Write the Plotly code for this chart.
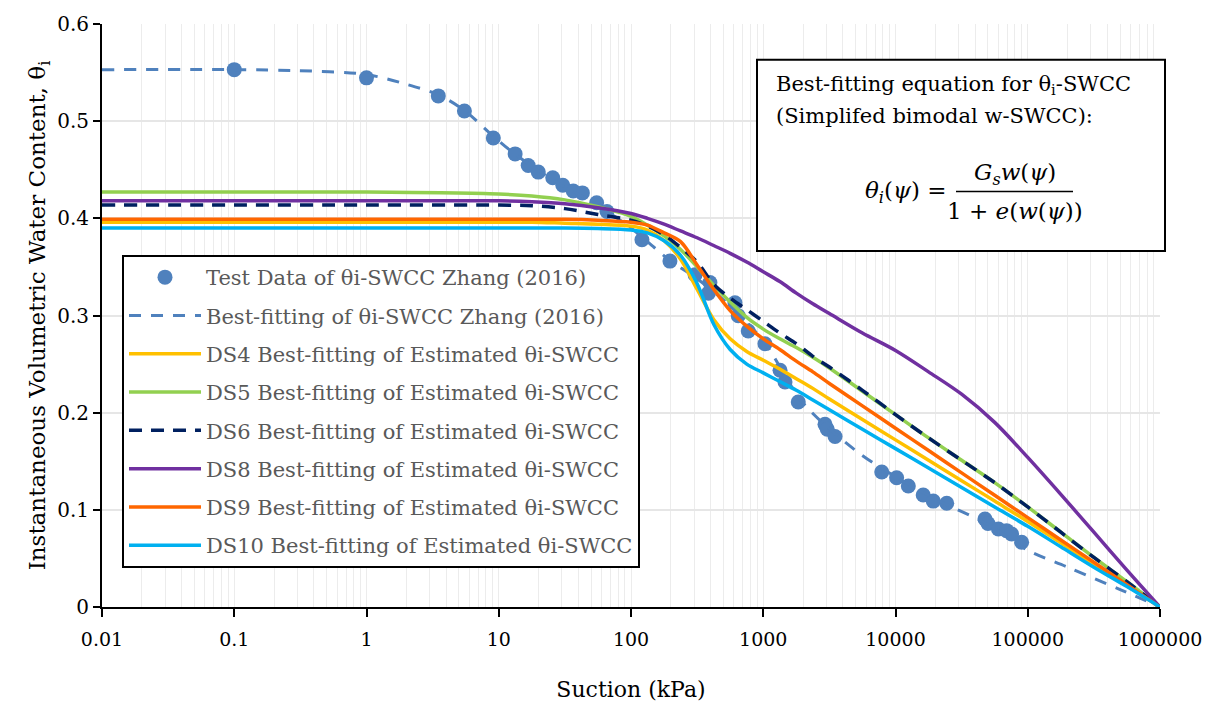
import plotly.graph_objects as go

# ---------------- data ----------------
test_x = [0.1, 1, 3.49, 5.5, 9.1, 13.3, 16.7, 19.9, 25.6, 30.5, 36.6, 42.9, 55, 65.8,
          121, 197, 305, 395, 385, 611, 647, 770, 1030, 1339, 1460, 1840, 2930, 3050, 3490,
          7870, 10200, 12500, 16200, 19300, 24400, 47500, 50000, 60000, 69200, 75500, 89900]
test_y = [0.553, 0.5446, 0.526, 0.5105, 0.4827, 0.4663, 0.4544, 0.4476, 0.4418, 0.434, 0.4282, 0.4262, 0.416, 0.407,
          0.378, 0.356, 0.342, 0.334, 0.323, 0.313, 0.2997, 0.284, 0.271, 0.2436, 0.2316, 0.211, 0.188, 0.183, 0.1755,
          0.139, 0.133, 0.1245, 0.1153, 0.109, 0.1068, 0.0905, 0.0860, 0.0803, 0.0786, 0.0752, 0.0667]

fit_x = [0.01, 0.1, 0.3, 1, 2, 3.5, 5.5, 9, 13, 20, 30, 55, 100, 150, 200, 300, 500, 1000,
         2000, 5000, 10000, 20000, 50000, 100000, 200000, 500000, 1000000]
fit_y = [0.553, 0.553, 0.552, 0.548, 0.538, 0.527, 0.511, 0.485, 0.467, 0.449, 0.434, 0.414, 0.390, 0.370,
         0.356, 0.340, 0.316, 0.274, 0.210, 0.161, 0.134, 0.111, 0.085, 0.0585, 0.041, 0.018, 0.0]

ds_x = [0.01, 0.1, 1, 10, 17.8, 31.6, 56.2, 100, 133, 178, 237, 316, 422, 562, 750, 1000,
        1334, 1778, 2371, 3162, 5623, 10000, 17783, 31623, 56234, 100000, 177828, 316228, 562341, 1000000]
ds4_y = [0.396, 0.396, 0.396, 0.396, 0.396, 0.395, 0.394, 0.392, 0.388, 0.377, 0.358, 0.327, 0.296, 0.276, 0.263,
         0.254, 0.245, 0.235, 0.225, 0.214, 0.193, 0.172, 0.151, 0.130, 0.109, 0.088, 0.066, 0.044, 0.022, 0.0]
ds5_y = [0.427, 0.427, 0.427, 0.425, 0.423, 0.419, 0.412, 0.402, 0.393, 0.382, 0.368, 0.350, 0.331, 0.314, 0.298,
         0.286, 0.276, 0.267, 0.257, 0.246, 0.222, 0.198, 0.174, 0.151, 0.128, 0.103, 0.077, 0.051, 0.026, 0.0]
ds6_y = [0.4136, 0.4136, 0.4136, 0.4136, 0.413, 0.410, 0.404, 0.398, 0.392, 0.383, 0.370, 0.355, 0.332, 0.318, 0.306,
         0.294, 0.282, 0.271, 0.258, 0.247, 0.223, 0.198, 0.174, 0.151, 0.128, 0.103, 0.077, 0.051, 0.026, 0.0]
ds8_y = [0.418, 0.418, 0.418, 0.418, 0.417, 0.415, 0.411, 0.405, 0.400, 0.394, 0.387, 0.380, 0.372, 0.364, 0.355,
         0.345, 0.335, 0.323, 0.312, 0.302, 0.282, 0.264, 0.242, 0.219, 0.190, 0.154, 0.116, 0.077, 0.038, 0.0]
ds9_y = [0.399, 0.399, 0.399, 0.399, 0.399, 0.399, 0.398, 0.396, 0.393, 0.385, 0.376, 0.352, 0.327, 0.305, 0.289,
         0.276, 0.265, 0.253, 0.242, 0.230, 0.207, 0.184, 0.161, 0.138, 0.115, 0.092, 0.069, 0.046, 0.023, 0.0]
ds10_y = [0.390, 0.390, 0.390, 0.390, 0.390, 0.390, 0.3895, 0.388, 0.385, 0.377, 0.362, 0.333, 0.291, 0.265, 0.250,
          0.241, 0.232, 0.223, 0.213, 0.203, 0.183, 0.163, 0.143, 0.123, 0.103, 0.083, 0.062, 0.041, 0.021, 0.0]

x_tickvals = [0.01, 0.1, 1, 10, 100, 1000, 10000, 100000, 1000000]
x_ticktext = ["0.01", "0.1", "1", "10", "100", "1000", "10000", "100000", "1000000"]

# ---------------- styling ----------------
FONT = "DejaVu Serif, Liberation Serif, serif"
L, R, T, B = 102, 1160, 19, 607
W, H = 1215, 711


def px(xp):
    return (xp - L) / (R - L)


def py(yp):
    return (B - yp) / (B - T)


fig = go.Figure()

fig.add_trace(go.Scatter(x=test_x, y=test_y, mode="markers", name="Test Data of θi-SWCC Zhang (2016)",
                         marker=dict(size=15, color="#4F81BD"), legendgroup="a"))
fig.add_trace(go.Scatter(x=fit_x, y=fit_y, mode="lines", name="Best-fitting of θi-SWCC Zhang (2016)",
                         line=dict(color="#4F81BD", width=3, dash="12px,10px", shape="spline", smoothing=0.9),
                         legendgroup="b"))

series = [
    ("DS4 Best-fitting of Estimated θi-SWCC", ds4_y, "#FFC000", "solid"),
    ("DS5 Best-fitting of Estimated θi-SWCC", ds5_y, "#92D050", "solid"),
    ("DS6 Best-fitting of Estimated θi-SWCC", ds6_y, "#002060", "13px,9px"),
    ("DS8 Best-fitting of Estimated θi-SWCC", ds8_y, "#7030A0", "solid"),
    ("DS9 Best-fitting of Estimated θi-SWCC", ds9_y, "#FF6600", "solid"),
    ("DS10 Best-fitting of Estimated θi-SWCC", ds10_y, "#00B0F0", "solid"),
]
for i, (name, ys, col, dash) in enumerate(series):
    fig.add_trace(go.Scatter(x=ds_x, y=ys, mode="lines", name=name,
                             line=dict(color=col, width=3.5, dash=dash, shape="spline", smoothing=0.9),
                             legendgroup="g%d" % i))

minor_vals = [k * 10 ** e for e in range(-2, 6) for k in range(2, 10)]

fig.update_xaxes(type="log", range=[-2, 6], tickmode="array", tickvals=x_tickvals, ticktext=x_ticktext,
                 showgrid=True, gridcolor="#ececec", gridwidth=1,
                 minor=dict(tickmode="array", tickvals=minor_vals, showgrid=True, gridcolor="#ececec",
                            gridwidth=1, ticks=""),
                 showline=True, linecolor="black", linewidth=2, ticks="outside", ticklen=8,
                 tickwidth=2, tickcolor="black", zeroline=False, ticklabelstandoff=6,
                 tickfont=dict(family=FONT, size=19, color="black"),
                 title=dict(text="Suction (kPa)", font=dict(family=FONT, size=22, color="black"), standoff=33))
fig.update_yaxes(range=[0, 0.6], dtick=0.1, showgrid=True, gridcolor="#e6e6e6", gridwidth=2,
                 showline=True, linecolor="black", linewidth=2, ticks="outside", ticklen=7,
                 tickwidth=2, tickcolor="black", zeroline=False,
                 tickfont=dict(family=FONT, size=20, color="black"),
                 title=dict(text="Instantaneous Volumetric Water Content, θ<sub>i</sub>",
                            font=dict(family=FONT, size=23, color="black"), standoff=5))

fig.update_layout(
    width=W, height=H,
    margin=dict(l=L, r=W - R, t=T, b=H - B),
    plot_bgcolor="white", paper_bgcolor="white",
    font=dict(family=FONT, size=20, color="black"),
    legend=dict(x=px(122), y=py(252), xanchor="left", yanchor="top",
                bgcolor="white", bordercolor="black", borderwidth=2,
                font=dict(family=FONT, size=21, color="#595959"),
                tracegroupgap=8, itemwidth=72),
    showlegend=True,
)

# equation box
fig.add_shape(type="rect", xref="paper", yref="paper", x0=px(757), x1=px(1165), y0=py(248), y1=py(55),
              line=dict(color="black", width=2), fillcolor="white", layer="above")
fig.add_annotation(xref="paper", yref="paper", x=px(774), y=py(81), xanchor="left", yanchor="middle",
                   text="Best-fitting equation for θ<sub>i</sub>-SWCC", showarrow=False,
                   font=dict(family=FONT, size=21, color="black"))
fig.add_annotation(xref="paper", yref="paper", x=px(774), y=py(112), xanchor="left", yanchor="middle",
                   text="(Simplifed bimodal w-SWCC):", showarrow=False,
                   font=dict(family=FONT, size=21, color="black"))
fig.add_annotation(xref="paper", yref="paper", x=px(949), y=py(188), xanchor="right", yanchor="middle",
                   text="<i>θ<sub>i</sub></i>(<i>ψ</i>) =", showarrow=False,
                   font=dict(family=FONT, size=23, color="black"))
fig.add_annotation(xref="paper", yref="paper", x=px(1015), y=py(170), xanchor="center", yanchor="middle",
                   text="<i>G<sub>s</sub>w</i>(<i>ψ</i>)", showarrow=False,
                   font=dict(family=FONT, size=23, color="black"))
fig.add_shape(type="line", xref="paper", yref="paper", x0=px(956), x1=px(1073), y0=py(188), y1=py(188),
              line=dict(color="black", width=1.5), layer="above")
fig.add_annotation(xref="paper", yref="paper", x=px(1015), y=py(208), xanchor="center", yanchor="middle",
                   text="1 + <i>e</i>(<i>w</i>(<i>ψ</i>))", showarrow=False,
                   font=dict(family=FONT, size=23, color="black"))

fig.write_html("out.html")
